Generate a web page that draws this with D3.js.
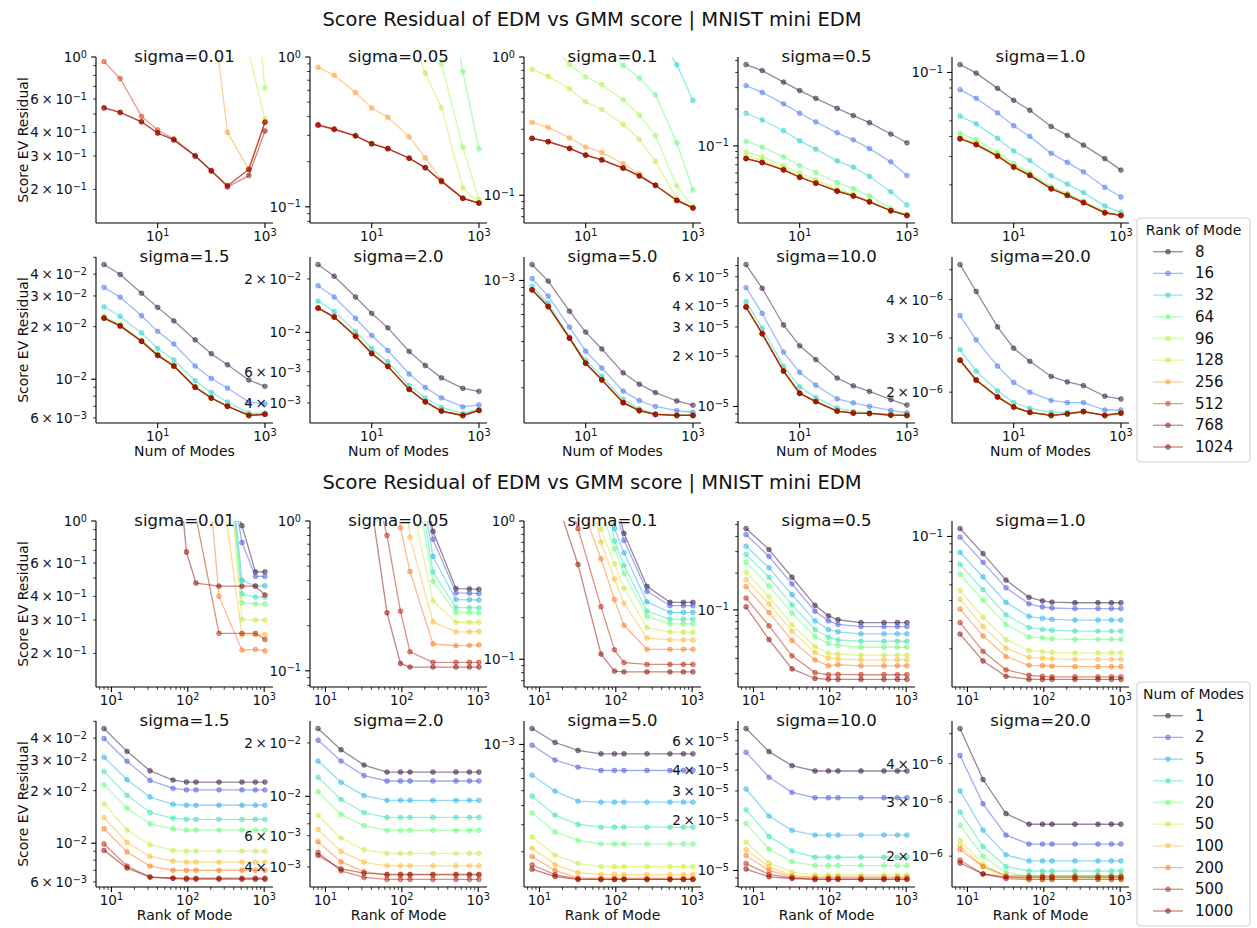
<!DOCTYPE html>
<html>
<head>
<meta charset="utf-8">
<script src="https://cdn.jsdelivr.net/npm/d3@7"></script>
<style>
  body { margin: 0; background: #fff; }
  svg { font-family: "DejaVu Sans", sans-serif; }
</style>
</head>
<body>
<svg id="chart" width="1257" height="928"></svg>
<script>
const sigmaLabels = ["0.01", "0.05", "0.1", "0.5", "1.0", "1.5", "2.0", "5.0", "10.0", "20.0"];
const ranks = [8, 16, 32, 64, 96, 128, 256, 512, 768, 1024];
const numModes = [1, 2, 5, 10, 20, 50, 100, 200, 500, 1000];

// residuals: one row per rank of mode, one column per num of modes
// (values above 1 run off the top of the first three panels)
const res001 = [
  [60, 55, 50, 45, 40, 35, 30, 25, 20, 15],
  [40, 36, 32, 28, 25, 21, 18, 15, 12, 9],
  [25, 22, 20, 18, 16, 13, 11, 9, 7, 6],
  [18, 16, 14, 12, 11, 9, 8, 7, 5.5, 3.9],
  [15, 13, 12, 11, 10, 9, 8, 7, 5, 0.686],
  [12, 11, 11, 10, 10, 10, 10, 10, 1.05, 0.47],
  [2.0, 4, 8, 8, 8, 7, 2.0, 0.40, 0.255, 0.453],
  [0.945, 0.77, 0.486, 0.412, 0.37, 0.302, 0.25, 0.208, 0.255, 0.453],
  [0.539, 0.51, 0.455, 0.397, 0.365, 0.300, 0.25, 0.21, 0.255, 0.453],
  [0.539, 0.51, 0.455, 0.397, 0.365, 0.300, 0.252, 0.206, 0.237, 0.407]
];
const res005 = [
  [50, 45, 40, 35, 30, 25, 20, 15, 10, 8],
  [35, 30, 27, 24, 20, 17, 14, 11, 8, 6],
  [25, 22, 19, 16, 14, 12, 10, 8, 3.5, 2.8],
  [18, 16, 14, 12, 10, 9, 8, 5, 0.80, 0.244],
  [14, 12, 11, 10, 9, 7, 3, 0.90, 0.25, 0.112],
  [8, 6, 5, 4, 3, 1.5, 0.78, 0.46, 0.134, 0.106],
  [0.853, 0.755, 0.58, 0.457, 0.396, 0.293, 0.212, 0.151, 0.114, 0.106],
  [0.354, 0.331, 0.299, 0.264, 0.245, 0.211, 0.182, 0.147, 0.114, 0.106],
  [0.352, 0.330, 0.298, 0.264, 0.245, 0.211, 0.182, 0.148, 0.114, 0.106],
  [0.350, 0.328, 0.297, 0.263, 0.244, 0.211, 0.183, 0.149, 0.114, 0.106]
];
const res01 = [
  [40, 35, 30, 25, 20, 15, 12, 10, 7, 5],
  [25, 22, 19, 16, 14, 11, 9, 7, 3, 1.53],
  [15, 13, 11, 9, 8, 6, 4, 1.52, 0.88, 0.485],
  [8, 7, 5, 3, 1.2, 0.87, 0.704, 0.533, 0.24, 0.109],
  [1.6, 1.3, 0.88, 0.716, 0.63, 0.49, 0.38, 0.27, 0.117, 0.082],
  [0.814, 0.724, 0.589, 0.476, 0.417, 0.326, 0.254, 0.176, 0.0945, 0.081],
  [0.337, 0.31, 0.26, 0.223, 0.204, 0.169, 0.142, 0.118, 0.0917, 0.081],
  [0.258, 0.244, 0.218, 0.195, 0.18, 0.157, 0.138, 0.118, 0.0917, 0.081],
  [0.258, 0.244, 0.218, 0.195, 0.18, 0.157, 0.138, 0.118, 0.0917, 0.081],
  [0.258, 0.244, 0.218, 0.195, 0.18, 0.157, 0.138, 0.118, 0.0917, 0.081]
];
const res05 = [
  [0.464, 0.414, 0.333, 0.284, 0.245, 0.203, 0.177, 0.155, 0.125, 0.106],
  [0.312, 0.274, 0.221, 0.185, 0.157, 0.128, 0.112, 0.095, 0.074, 0.0571],
  [0.185, 0.163, 0.133, 0.110, 0.094, 0.0753, 0.0669, 0.0561, 0.0420, 0.0328],
  [0.109, 0.0975, 0.0813, 0.0690, 0.0605, 0.050, 0.0447, 0.0389, 0.0306, 0.0274],
  [0.0893, 0.0813, 0.0690, 0.0597, 0.053, 0.0442, 0.040, 0.0348, 0.0294, 0.0270],
  [0.083, 0.076, 0.066, 0.0567, 0.0512, 0.0435, 0.0397, 0.0355, 0.0296, 0.0269],
  [0.0787, 0.073, 0.0636, 0.0553, 0.0494, 0.0425, 0.0389, 0.0348, 0.0294, 0.0269],
  [0.0787, 0.073, 0.0636, 0.0553, 0.0494, 0.0425, 0.0389, 0.0348, 0.0294, 0.0269],
  [0.0787, 0.073, 0.0636, 0.0553, 0.0494, 0.0425, 0.0389, 0.0348, 0.0294, 0.0269],
  [0.0787, 0.073, 0.0636, 0.0553, 0.0494, 0.0425, 0.0389, 0.0348, 0.0294, 0.0269]
];
const res10 = [
  [0.112, 0.099, 0.0796, 0.0671, 0.0582, 0.0461, 0.0406, 0.0353, 0.0291, 0.0247],
  [0.0782, 0.069, 0.056, 0.0466, 0.040, 0.0314, 0.0276, 0.0241, 0.0193, 0.0168],
  [0.0535, 0.0479, 0.0389, 0.0325, 0.0283, 0.0228, 0.0202, 0.0179, 0.0148, 0.0135],
  [0.0418, 0.0381, 0.0318, 0.0271, 0.0237, 0.0195, 0.0177, 0.0158, 0.0137, 0.0129],
  [0.0397, 0.0364, 0.0309, 0.0264, 0.0234, 0.0192, 0.0175, 0.0157, 0.0135, 0.0129],
  [0.039, 0.0359, 0.0305, 0.0261, 0.0231, 0.019, 0.0173, 0.0156, 0.0134, 0.0129],
  [0.0387, 0.0356, 0.0302, 0.0258, 0.0229, 0.0189, 0.0172, 0.0155, 0.0134, 0.0129],
  [0.0387, 0.0356, 0.0302, 0.0258, 0.0229, 0.0189, 0.0172, 0.0155, 0.0134, 0.0129],
  [0.0387, 0.0356, 0.0302, 0.0258, 0.0229, 0.0189, 0.0172, 0.0155, 0.0134, 0.0129],
  [0.0387, 0.0356, 0.0302, 0.0258, 0.0229, 0.0189, 0.0172, 0.0155, 0.0134, 0.0129]
];
const res15 = [
  [0.0454, 0.0398, 0.0311, 0.0258, 0.0216, 0.0168, 0.0140, 0.0121, 0.0099, 0.0091],
  [0.0336, 0.0295, 0.0231, 0.0188, 0.0159, 0.0119, 0.0101, 0.0089, 0.0074, 0.0072],
  [0.0260, 0.0229, 0.0184, 0.0150, 0.0129, 0.0098, 0.0084, 0.0074, 0.0064, 0.0064],
  [0.0230, 0.0206, 0.0167, 0.0139, 0.0121, 0.0091, 0.0079, 0.0070, 0.0063, 0.0063],
  [0.0224, 0.0202, 0.0165, 0.0137, 0.0119, 0.0090, 0.0078, 0.0070, 0.0062, 0.0063],
  [0.0224, 0.0202, 0.0165, 0.0137, 0.0119, 0.0090, 0.0078, 0.0070, 0.0062, 0.0063],
  [0.0224, 0.0202, 0.0165, 0.0137, 0.0119, 0.0090, 0.0078, 0.0070, 0.0062, 0.0063],
  [0.0224, 0.0202, 0.0165, 0.0137, 0.0119, 0.0090, 0.0078, 0.0070, 0.0062, 0.0063],
  [0.0224, 0.0202, 0.0165, 0.0137, 0.0119, 0.0090, 0.0078, 0.0070, 0.0062, 0.0063],
  [0.0224, 0.0202, 0.0165, 0.0137, 0.0119, 0.0090, 0.0078, 0.0070, 0.0062, 0.0063]
];
const res20 = [
  [0.0241, 0.0207, 0.0158, 0.0128, 0.0106, 0.0078, 0.0065, 0.00554, 0.00483, 0.00465],
  [0.0183, 0.0158, 0.0120, 0.0096, 0.0079, 0.00582, 0.00489, 0.00427, 0.0038, 0.0039],
  [0.0150, 0.0131, 0.0101, 0.0081, 0.00683, 0.0050, 0.00426, 0.00377, 0.00349, 0.00369],
  [0.0137, 0.0122, 0.0095, 0.0076, 0.00643, 0.00477, 0.00406, 0.00360, 0.00340, 0.00363],
  [0.0137, 0.0122, 0.0095, 0.0076, 0.00643, 0.00477, 0.00406, 0.00360, 0.00340, 0.00363],
  [0.0137, 0.0122, 0.0095, 0.0076, 0.00643, 0.00477, 0.00406, 0.00360, 0.00340, 0.00363],
  [0.0137, 0.0122, 0.0095, 0.0076, 0.00643, 0.00477, 0.00406, 0.00360, 0.00340, 0.00363],
  [0.0137, 0.0122, 0.0095, 0.0076, 0.00643, 0.00477, 0.00406, 0.00360, 0.00340, 0.00363],
  [0.0137, 0.0122, 0.0095, 0.0076, 0.00643, 0.00477, 0.00406, 0.00360, 0.00340, 0.00363],
  [0.0137, 0.0122, 0.0095, 0.0076, 0.00643, 0.00477, 0.00406, 0.00360, 0.00340, 0.00363]
];
const res50 = [
  [1.27e-3, 9.9e-4, 6.31e-4, 4.61e-4, 3.58e-4, 2.50e-4, 2.11e-4, 1.86e-4, 1.64e-4, 1.54e-4],
  [1.03e-3, 7.91e-4, 4.96e-4, 3.46e-4, 2.69e-4, 1.90e-4, 1.65e-4, 1.51e-4, 1.42e-4, 1.38e-4],
  [9.14e-4, 7.11e-4, 4.27e-4, 3.01e-4, 2.37e-4, 1.68e-4, 1.46e-4, 1.35e-4, 1.33e-4, 1.32e-4],
  [8.69e-4, 6.77e-4, 4.21e-4, 2.89e-4, 2.25e-4, 1.60e-4, 1.42e-4, 1.34e-4, 1.32e-4, 1.32e-4],
  [8.69e-4, 6.77e-4, 4.21e-4, 2.89e-4, 2.25e-4, 1.60e-4, 1.42e-4, 1.34e-4, 1.32e-4, 1.32e-4],
  [8.69e-4, 6.77e-4, 4.21e-4, 2.89e-4, 2.25e-4, 1.60e-4, 1.42e-4, 1.34e-4, 1.32e-4, 1.32e-4],
  [8.69e-4, 6.77e-4, 4.21e-4, 2.89e-4, 2.25e-4, 1.60e-4, 1.42e-4, 1.34e-4, 1.32e-4, 1.32e-4],
  [8.69e-4, 6.77e-4, 4.21e-4, 2.89e-4, 2.25e-4, 1.60e-4, 1.42e-4, 1.34e-4, 1.32e-4, 1.32e-4],
  [8.69e-4, 6.77e-4, 4.21e-4, 2.89e-4, 2.25e-4, 1.60e-4, 1.42e-4, 1.34e-4, 1.32e-4, 1.32e-4],
  [8.69e-4, 6.77e-4, 4.21e-4, 2.89e-4, 2.25e-4, 1.60e-4, 1.42e-4, 1.34e-4, 1.32e-4, 1.32e-4]
];
const res100 = [
  [7.1e-5, 5.11e-5, 3.08e-5, 2.31e-5, 1.91e-5, 1.48e-5, 1.33e-5, 1.23e-5, 1.10e-5, 1.02e-5],
  [5.16e-5, 3.62e-5, 2.12e-5, 1.60e-5, 1.34e-5, 1.11e-5, 1.05e-5, 1.00e-5, 9.46e-6, 9.16e-6],
  [4.25e-5, 2.94e-5, 1.74e-5, 1.31e-5, 1.13e-5, 9.77e-6, 9.33e-6, 9.16e-6, 9.03e-6, 8.95e-6],
  [3.95e-5, 2.73e-5, 1.63e-5, 1.20e-5, 1.07e-5, 9.38e-6, 9.12e-6, 9.08e-6, 8.87e-6, 8.83e-6],
  [3.95e-5, 2.73e-5, 1.63e-5, 1.20e-5, 1.07e-5, 9.38e-6, 9.12e-6, 9.08e-6, 8.87e-6, 8.83e-6],
  [3.95e-5, 2.73e-5, 1.63e-5, 1.20e-5, 1.07e-5, 9.38e-6, 9.12e-6, 9.08e-6, 8.87e-6, 8.83e-6],
  [3.95e-5, 2.73e-5, 1.63e-5, 1.20e-5, 1.07e-5, 9.38e-6, 9.12e-6, 9.08e-6, 8.87e-6, 8.83e-6],
  [3.95e-5, 2.73e-5, 1.63e-5, 1.20e-5, 1.07e-5, 9.38e-6, 9.12e-6, 9.08e-6, 8.87e-6, 8.83e-6],
  [3.95e-5, 2.73e-5, 1.63e-5, 1.20e-5, 1.07e-5, 9.38e-6, 9.12e-6, 9.08e-6, 8.87e-6, 8.83e-6],
  [3.95e-5, 2.73e-5, 1.63e-5, 1.20e-5, 1.07e-5, 9.38e-6, 9.12e-6, 9.08e-6, 8.87e-6, 8.83e-6]
];
const res200 = [
  [5.2e-6, 4.25e-6, 3.26e-6, 2.78e-6, 2.52e-6, 2.25e-6, 2.16e-6, 2.10e-6, 1.94e-6, 1.90e-6],
  [3.55e-6, 2.96e-6, 2.43e-6, 2.15e-6, 2.0e-6, 1.88e-6, 1.85e-6, 1.85e-6, 1.75e-6, 1.75e-6],
  [2.75e-6, 2.34e-6, 2.02e-6, 1.85e-6, 1.77e-6, 1.72e-6, 1.72e-6, 1.73e-6, 1.69e-6, 1.71e-6],
  [2.54e-6, 2.19e-6, 1.93e-6, 1.79e-6, 1.72e-6, 1.68e-6, 1.70e-6, 1.73e-6, 1.68e-6, 1.71e-6],
  [2.54e-6, 2.19e-6, 1.93e-6, 1.79e-6, 1.72e-6, 1.68e-6, 1.70e-6, 1.73e-6, 1.68e-6, 1.71e-6],
  [2.54e-6, 2.19e-6, 1.93e-6, 1.79e-6, 1.72e-6, 1.68e-6, 1.70e-6, 1.73e-6, 1.68e-6, 1.71e-6],
  [2.54e-6, 2.19e-6, 1.93e-6, 1.79e-6, 1.72e-6, 1.68e-6, 1.70e-6, 1.73e-6, 1.68e-6, 1.71e-6],
  [2.54e-6, 2.19e-6, 1.93e-6, 1.79e-6, 1.72e-6, 1.68e-6, 1.70e-6, 1.73e-6, 1.68e-6, 1.71e-6],
  [2.54e-6, 2.19e-6, 1.93e-6, 1.79e-6, 1.72e-6, 1.68e-6, 1.70e-6, 1.73e-6, 1.68e-6, 1.71e-6],
  [2.54e-6, 2.19e-6, 1.93e-6, 1.79e-6, 1.72e-6, 1.68e-6, 1.70e-6, 1.73e-6, 1.68e-6, 1.71e-6]
];
const residuals = [res001, res005, res01, res05, res10, res15, res20, res50, res100, res200];

// the three smallest sigmas have the y axis capped at 1
const fixedYLimits = { "0.01": [0.133, 1], "0.05": [0.078, 1], "0.1": [0.063, 1] };

const svg = d3.select("#chart");
const W = 177, H = 166;
const colX = [96, 310, 524, 738, 952];
const tickFont = 13.5;
const turbo = t => t === 0 ? "#30123b" : d3.interpolateTurbo(t);

// colour follows the log of the series value (rank or num of modes)
function colorFor(values) {
    const s = d3.scaleLog().domain(d3.extent(values)).range([0, 1]);
    return v => turbo(s(v));
}

const figures = [
    { title: "Score Residual of EDM vs GMM score | MNIST mini EDM", titleY: 26, rowY: [57, 257],
      byRank: true, xVals: numModes, xLabel: "Num of Modes",
      legendTitle: "Rank of Mode", legendItems: ranks, legendY: 218,
      xMajor: [10, 1000], xMinor: false },
    { title: "Score Residual of EDM vs GMM score | MNIST mini EDM", titleY: 489, rowY: [521, 721],
      byRank: false, xVals: ranks, xLabel: "Rank of Mode",
      legendTitle: "Num of Modes", legendItems: numModes, legendY: 682,
      xMajor: [10, 100, 1000], xMinor: true }
];

function padLog(lo, hi) {
    const a = Math.log10(lo), b = Math.log10(hi), p = (b - a) * 0.05;
    return [Math.pow(10, a - p), Math.pow(10, b + p)];
}

function sup(e) {
    return String(e).replace("-", "\u2212");
}

function tickLabel(text, m, e) {
    text.append("tspan").text(m === 1 ? "10" : m + "\u2009\u00d7\u200910");
    text.append("tspan").attr("dy", "-0.45em").attr("font-size", "0.72em").text(sup(e));
}

function yTicks(lo, hi) {
    const l0 = Math.log10(lo), l1 = Math.log10(hi);
    const numdec = l1 - l0;
    const shown = numdec > 1 ? [1] : numdec > 0.4 ? [1, 2, 3, 4, 6] : d3.range(1, 10);
    const out = [];
    for (let e = Math.floor(l0); e <= Math.ceil(l1); e++) {
        for (let m = 1; m <= 9; m++) {
            const v = m * Math.pow(10, e);
            const lv = Math.log10(v);
            if (lv < l0 - 1e-9 || lv > l1 + 1e-9) continue;
            out.push({ v, m, e, label: shown.includes(m) });
        }
    }
    return out;
}

let clipId = 0;

function drawPanel(fig, k) {
    const row = Math.floor(k / 5), col = k % 5;
    const x0 = colX[col], y0 = fig.rowY[row];
    const M = residuals[k];
    const g = svg.append("g").attr("transform", `translate(${x0},${y0})`);

    const xs = d3.scaleLog()
        .domain(padLog(d3.min(fig.xVals), d3.max(fig.xVals)))
        .range([0, W]);
    const all = M.flat();
    const yDom = fixedYLimits[sigmaLabels[k]] || padLog(d3.min(all), d3.max(all));
    const ys = d3.scaleLog().domain(yDom).range([H, 0]);

    // one series per rank (top figure) or per num of modes (bottom figure)
    const keys = fig.byRank ? ranks : numModes;
    const color = colorFor(keys);
    const series = fig.byRank
        ? ranks.map((r, i) => numModes.map((m, j) => [m, M[i][j]]))
        : numModes.map((m, j) => ranks.map((r, i) => [r, M[i][j]]));

    const id = "clip" + (clipId++);
    g.append("clipPath").attr("id", id)
        .append("rect").attr("width", W).attr("height", H);

    const plot = g.append("g").attr("clip-path", `url(#${id})`);
    const line = d3.line().x(d => xs(d[0])).y(d => ys(d[1]));

    series.forEach((pts, i) => {
        const c = color(keys[i]);
        plot.append("path")
            .attr("d", line(pts))
            .attr("fill", "none")
            .attr("stroke", c)
            .attr("stroke-width", 1.3)
            .attr("stroke-opacity", 0.5);
        plot.selectAll(null)
            .data(pts)
            .enter()
            .append("circle")
            .attr("cx", d => xs(d[0]))
            .attr("cy", d => ys(d[1]))
            .attr("r", 2.4)
            .attr("fill", c)
            .attr("fill-opacity", 0.5)
            .attr("stroke", c)
            .attr("stroke-opacity", 0.5)
            .attr("stroke-width", 0.9);
    });

    // y ticks
    yTicks(yDom[0], yDom[1]).forEach(t => {
        const y = ys(t.v);
        g.append("line")
            .attr("x1", 0).attr("x2", t.m === 1 ? -4.9 : -2.8)
            .attr("y1", y).attr("y2", y)
            .attr("stroke", "#000")
            .attr("stroke-width", t.m === 1 ? 1.1 : 0.8);
        if (t.label) {
            const txt = g.append("text")
                .attr("x", -9)
                .attr("y", y + 5)
                .attr("text-anchor", "end")
                .attr("font-size", tickFont)
                .attr("fill", "#111");
            tickLabel(txt, t.m, t.e);
        }
    });

    // x ticks
    const xd = xs.domain();
    fig.xMajor.forEach(v => {
        const x = xs(v);
        g.append("line")
            .attr("x1", x).attr("x2", x).attr("y1", H).attr("y2", H + 4.9)
            .attr("stroke", "#000").attr("stroke-width", 1.1);
        const txt = g.append("text")
            .attr("x", x).attr("y", H + 17.5)
            .attr("text-anchor", "middle")
            .attr("font-size", tickFont)
            .attr("fill", "#111");
        tickLabel(txt, 1, Math.round(Math.log10(v)));
    });
    if (fig.xMinor) {
        for (let e = 0; e <= 3; e++) {
            for (let m = 2; m <= 9; m++) {
                const v = m * Math.pow(10, e);
                if (v < xd[0] || v > xd[1]) continue;
                const x = xs(v);
                g.append("line")
                    .attr("x1", x).attr("x2", x).attr("y1", H).attr("y2", H + 2.8)
                    .attr("stroke", "#000").attr("stroke-width", 0.8);
            }
        }
    }

    // spines
    g.append("line").attr("x1", 0).attr("x2", 0).attr("y1", 0).attr("y2", H)
        .attr("stroke", "#000").attr("stroke-width", 1.1);
    g.append("line").attr("x1", 0).attr("x2", W).attr("y1", H).attr("y2", H)
        .attr("stroke", "#000").attr("stroke-width", 1.1);

    // subplot title
    g.append("text")
        .attr("x", W / 2).attr("y", 5)
        .attr("text-anchor", "middle")
        .attr("font-size", 16.5)
        .attr("fill", "#111")
        .text("sigma=" + sigmaLabels[k]);

    if (col === 0) {
        g.append("text")
            .attr("transform", `translate(${28 - x0},${H / 2}) rotate(-90)`)
            .attr("text-anchor", "middle")
            .attr("font-size", 14)
            .attr("fill", "#111")
            .text("Score EV Residual");
    }
    if (row === 1) {
        g.append("text")
            .attr("x", W / 2).attr("y", H + 33)
            .attr("text-anchor", "middle")
            .attr("font-size", 14)
            .attr("fill", "#111")
            .text(fig.xLabel);
    }
}

function drawLegend(fig) {
    const lx = 1137, ly = fig.legendY, lw = 113, lh = 244;
    const color = colorFor(fig.legendItems);
    const g = svg.append("g");
    g.append("rect")
        .attr("x", lx).attr("y", ly).attr("width", lw).attr("height", lh)
        .attr("rx", 3)
        .attr("fill", "#fff").attr("fill-opacity", 0.8)
        .attr("stroke", "#d0d0d0").attr("stroke-width", 1);
    g.append("text")
        .attr("x", lx + lw / 2).attr("y", ly + 17)
        .attr("text-anchor", "middle")
        .attr("font-size", 14)
        .attr("fill", "#111")
        .text(fig.legendTitle);
    fig.legendItems.forEach((v, i) => {
        const cy = ly + 33.7 + i * 21.7;
        const c = color(v);
        g.append("line")
            .attr("x1", lx + 16).attr("x2", lx + 46).attr("y1", cy).attr("y2", cy)
            .attr("stroke", c).attr("stroke-width", 1.3).attr("stroke-opacity", 0.5);
        g.append("circle")
            .attr("cx", lx + 31).attr("cy", cy).attr("r", 2.4)
            .attr("fill", c).attr("fill-opacity", 0.5)
            .attr("stroke", c).attr("stroke-opacity", 0.5).attr("stroke-width", 0.9);
        g.append("text")
            .attr("x", lx + 58).attr("y", cy + 5)
            .attr("font-size", 15)
            .attr("fill", "#111")
            .text(v);
    });
}

figures.forEach(fig => {
    svg.append("text")
        .attr("x", 592).attr("y", fig.titleY)
        .attr("text-anchor", "middle")
        .attr("font-size", 19.5)
        .attr("fill", "#111")
        .text(fig.title);
    sigmaLabels.forEach((s, k) => drawPanel(fig, k));
    drawLegend(fig);
});
</script>
</body>
</html>
